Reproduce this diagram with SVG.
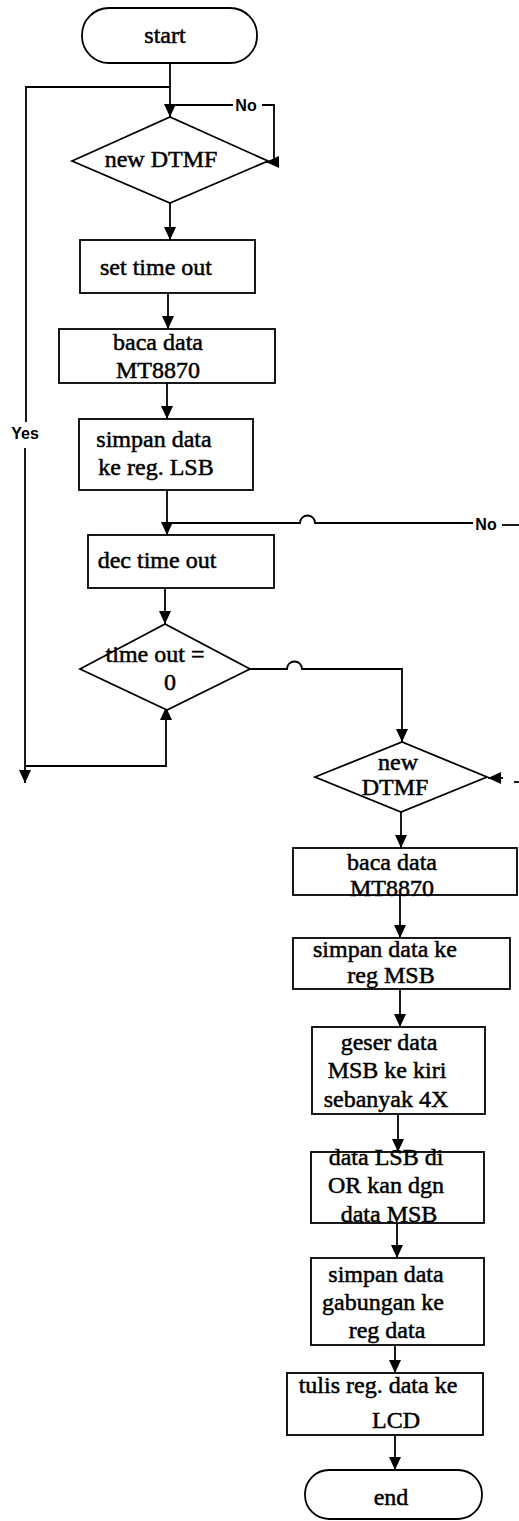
<svg xmlns="http://www.w3.org/2000/svg" width="519" height="1521" viewBox="0 0 519 1521">
<style>
.s{fill:#fff;stroke:#000;stroke-width:1.8}
.t{font-family:"Liberation Serif","Times New Roman",serif;font-size:24px;fill:#000;stroke:#000;stroke-width:0.5;text-anchor:middle}
.l{font-family:"Liberation Sans",Arial,sans-serif;font-size:16px;font-weight:bold;fill:#000;text-anchor:middle}
.c{fill:none;stroke:#000;stroke-width:1.8}
</style>
<defs>
<marker id="a" markerUnits="userSpaceOnUse" markerWidth="14" markerHeight="12" refX="13" refY="6" orient="auto">
<path d="M0,0 L13,6 L0,12 z" fill="#000"/>
</marker>
</defs>
<rect width="519" height="1521" fill="#fff"/>
<g id="connectors">
<path class="c" d="M170,63 V117" marker-end="url(#a)"/>
<path class="c" d="M170,87 H26 V422"/>
<path class="c" d="M25,448 V783" marker-end="url(#a)"/>
<path class="c" d="M170,105 H233"/>
<path class="c" d="M262,105 H274 V162 H266" marker-end="url(#a)"/>
<path class="c" d="M170,203 V240" marker-end="url(#a)"/>
<path class="c" d="M168,293 V329" marker-end="url(#a)"/>
<path class="c" d="M167,383 V419" marker-end="url(#a)"/>
<path class="c" d="M167,490 V535" marker-end="url(#a)"/>
<path class="c" d="M167,523 H300 A7.5,7.5 0 0 1 315,523 H473"/>
<path class="c" d="M502,525 H519"/>
<path class="c" d="M165,588 V624" marker-end="url(#a)"/>
<path class="c" d="M250,669 H287 A7.5,7.5 0 0 1 302,669 H402 V742" marker-end="url(#a)"/>
<path class="c" d="M25,766 H166 V707" marker-end="url(#a)"/>
<path class="c" d="M503,778 H488" marker-end="url(#a)"/>
<path class="c" d="M514,782 H519"/>
<path class="c" d="M401,812 V848" marker-end="url(#a)"/>
<path class="c" d="M400,895 V938" marker-end="url(#a)"/>
<path class="c" d="M400,989 V1027" marker-end="url(#a)"/>
<path class="c" d="M398,1114 V1152" marker-end="url(#a)"/>
<path class="c" d="M397,1223 V1258" marker-end="url(#a)"/>
<path class="c" d="M395,1345 V1373" marker-end="url(#a)"/>
<path class="c" d="M395,1435 V1470" marker-end="url(#a)"/>
<text class="l" x="246" y="111">No</text>
<text class="l" x="25" y="439">Yes</text>
<text class="l" x="486" y="530">No</text>
</g>
<g id="start"><rect class="s" x="82" y="8" width="175" height="55" rx="27"/><text class="t" x="165" y="43">start</text></g>
<g id="newdtmf1"><polygon class="s" points="72,161 170,117 268,161 170,203"/><text class="t" x="161" y="167">new DTMF</text></g>
<g id="settimeout"><rect class="s" x="80" y="240" width="175" height="53"/><text class="t" x="156" y="275">set time out</text></g>
<g id="bacadata1"><rect class="s" x="59" y="329" width="216" height="54"/><text class="t" x="158" y="350">baca data</text><text class="t" x="158" y="378">MT8870</text></g>
<g id="simpanlsb"><rect class="s" x="79" y="419" width="174" height="71"/><text class="t" x="154" y="447">simpan data</text><text class="t" x="156" y="475">ke reg. LSB</text></g>
<g id="dectimeout"><rect class="s" x="88" y="535" width="186" height="53"/><text class="t" x="157" y="568">dec time out</text></g>
<g id="timeout0"><polygon class="s" points="80,669 165,624 250,669 167,710"/><text class="t" x="155" y="662">time out =</text><text class="t" x="170" y="690">0</text></g>
<g id="newdtmf2"><polygon class="s" points="315,777 402,742 487,777 401,812"/><text class="t" x="398" y="770">new</text><text class="t" x="395" y="795">DTMF</text></g>
<g id="bacadata2"><rect class="s" x="293" y="848" width="224" height="47"/><text class="t" x="392" y="870">baca data</text><text class="t" x="392" y="896">MT8870</text></g>
<g id="simpanmsb"><rect class="s" x="293" y="938" width="217" height="51"/><text class="t" x="385" y="957">simpan data ke</text><text class="t" x="391" y="983">reg MSB</text></g>
<g id="geser"><rect class="s" x="312" y="1027" width="173" height="87"/><text class="t" x="389" y="1050">geser data</text><text class="t" x="387" y="1078">MSB ke kiri</text><text class="t" x="386" y="1107">sebanyak 4X</text></g>
<g id="orlsb"><rect class="s" x="311" y="1152" width="173" height="71"/><text class="t" x="386" y="1165">data LSB di</text><text class="t" x="386" y="1193">OR kan dgn</text><text class="t" x="389" y="1222">data MSB</text></g>
<g id="gabungan"><rect class="s" x="311" y="1258" width="173" height="87"/><text class="t" x="386" y="1282">simpan data</text><text class="t" x="383" y="1310">gabungan ke</text><text class="t" x="387" y="1338">reg data</text></g>
<g id="tulis"><rect class="s" x="287" y="1373" width="196" height="62"/><text class="t" x="378" y="1393">tulis reg. data ke</text><text class="t" x="396" y="1428">LCD</text></g>
<g id="end"><rect class="s" x="305" y="1470" width="177" height="49" rx="24"/><text class="t" x="391" y="1505">end</text></g>
</svg>
